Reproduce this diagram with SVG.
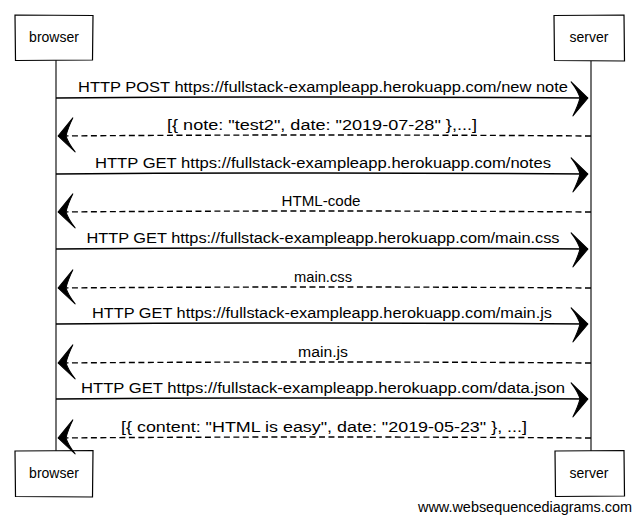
<svg xmlns="http://www.w3.org/2000/svg" width="639" height="521" viewBox="0 0 639 521">
  <style>
    .box { fill: #ffffff; stroke: #000000; stroke-width: 1.2; }
    .life { fill: none; stroke: #000000; stroke-width: 1.1; }
    .msg { fill: none; stroke: #000000; stroke-width: 1.4; }
    .ret { fill: none; stroke: #000000; stroke-width: 1.4; stroke-dasharray: 6 3.5; }
    .lbl { font-family: "Liberation Sans", Arial, sans-serif; font-size: 14px; fill: #000000; text-anchor: middle; }
    .name { font-family: "Liberation Sans", Arial, sans-serif; font-size: 14px; fill: #000000; text-anchor: middle; }
    .foot { font-family: "Liberation Sans", Arial, sans-serif; font-size: 14px; fill: #000000; }
  </style>
  <defs>
    <marker id="head" markerUnits="userSpaceOnUse" orient="auto" markerWidth="20" markerHeight="40" refX="0" refY="0" overflow="visible">
      <path d="M0,0 L-17,-16 Q-10,-7 -8,0 Q-10,8 -15,18 Z" fill="#000000" stroke="#000000" stroke-width="1" stroke-linejoin="round"/>
    </marker>
  </defs>
  <rect width="639" height="521" fill="#ffffff"/>

  <g id="lifelines">
    <path class="life" d="M56,60 L56,451"/>
    <path class="life" d="M591,61 L591,451"/>
  </g>

  <g id="browser-top">
    <path class="box" d="M15,15 L93,15.5 L92.5,60 L15.5,60.5 Z"/>
    <text class="name" x="54" y="42">browser</text>
  </g>
  <g id="server-top">
    <path class="box" d="M554,15.5 L624,15 L624.5,61 L554.5,60.5 Z"/>
    <text class="name" x="589" y="42">server</text>
  </g>
  <g id="browser-bottom">
    <path class="box" d="M15,451 L93,450.5 L92.5,497 L15.5,496.5 Z"/>
    <text class="name" x="54" y="478">browser</text>
  </g>
  <g id="server-bottom">
    <path class="box" d="M555,451 L624,450.5 L624.5,496 L555.5,496.5 Z"/>
    <text class="name" x="589" y="478">server</text>
  </g>

  <g id="connectors">
    <path class="msg" d="M56,98 Q320,96 588,98" marker-end="url(#head)"/>
    <path class="ret" d="M591,136 Q320,134 58,136" marker-end="url(#head)"/>
    <path class="msg" d="M56,174 Q320,172 588,174" marker-end="url(#head)"/>
    <path class="ret" d="M591,212 Q320,210 58,212" marker-end="url(#head)"/>
    <path class="msg" d="M56,249 Q320,247 588,249" marker-end="url(#head)"/>
    <path class="ret" d="M591,288 Q320,286 58,288" marker-end="url(#head)"/>
    <path class="msg" d="M56,324 Q320,322 588,324" marker-end="url(#head)"/>
    <path class="ret" d="M591,363 Q320,361 58,363" marker-end="url(#head)"/>
    <path class="msg" d="M56,399 Q320,397 588,399" marker-end="url(#head)"/>
    <path class="ret" d="M591,438 Q320,436 58,438" marker-end="url(#head)"/>
  </g>

  <g id="labels">
    <text class="lbl" x="323" y="92" textLength="490" lengthAdjust="spacingAndGlyphs">HTTP POST https://fullstack-exampleapp.herokuapp.com/new note</text>
    <text class="lbl" x="322" y="130" textLength="310" lengthAdjust="spacingAndGlyphs">[{ note: "test2", date: "2019-07-28" },...]</text>
    <text class="lbl" x="323" y="168" textLength="456" lengthAdjust="spacingAndGlyphs">HTTP GET https://fullstack-exampleapp.herokuapp.com/notes</text>
    <text class="lbl" x="321" y="206" textLength="79" lengthAdjust="spacingAndGlyphs">HTML-code</text>
    <text class="lbl" x="323" y="243" textLength="473" lengthAdjust="spacingAndGlyphs">HTTP GET https://fullstack-exampleapp.herokuapp.com/main.css</text>
    <text class="lbl" x="323" y="282" textLength="58" lengthAdjust="spacingAndGlyphs">main.css</text>
    <text class="lbl" x="322" y="318" textLength="460" lengthAdjust="spacingAndGlyphs">HTTP GET https://fullstack-exampleapp.herokuapp.com/main.js</text>
    <text class="lbl" x="323" y="357" textLength="50" lengthAdjust="spacingAndGlyphs">main.js</text>
    <text class="lbl" x="323" y="393" textLength="484" lengthAdjust="spacingAndGlyphs">HTTP GET https://fullstack-exampleapp.herokuapp.com/data.json</text>
    <text class="lbl" x="324" y="432" textLength="406" lengthAdjust="spacingAndGlyphs">[{ content: "HTML is easy", date: "2019-05-23" }, ...]</text>
  </g>

  <text class="foot" x="418" y="512" textLength="214" lengthAdjust="spacingAndGlyphs">www.websequencediagrams.com</text>
</svg>
